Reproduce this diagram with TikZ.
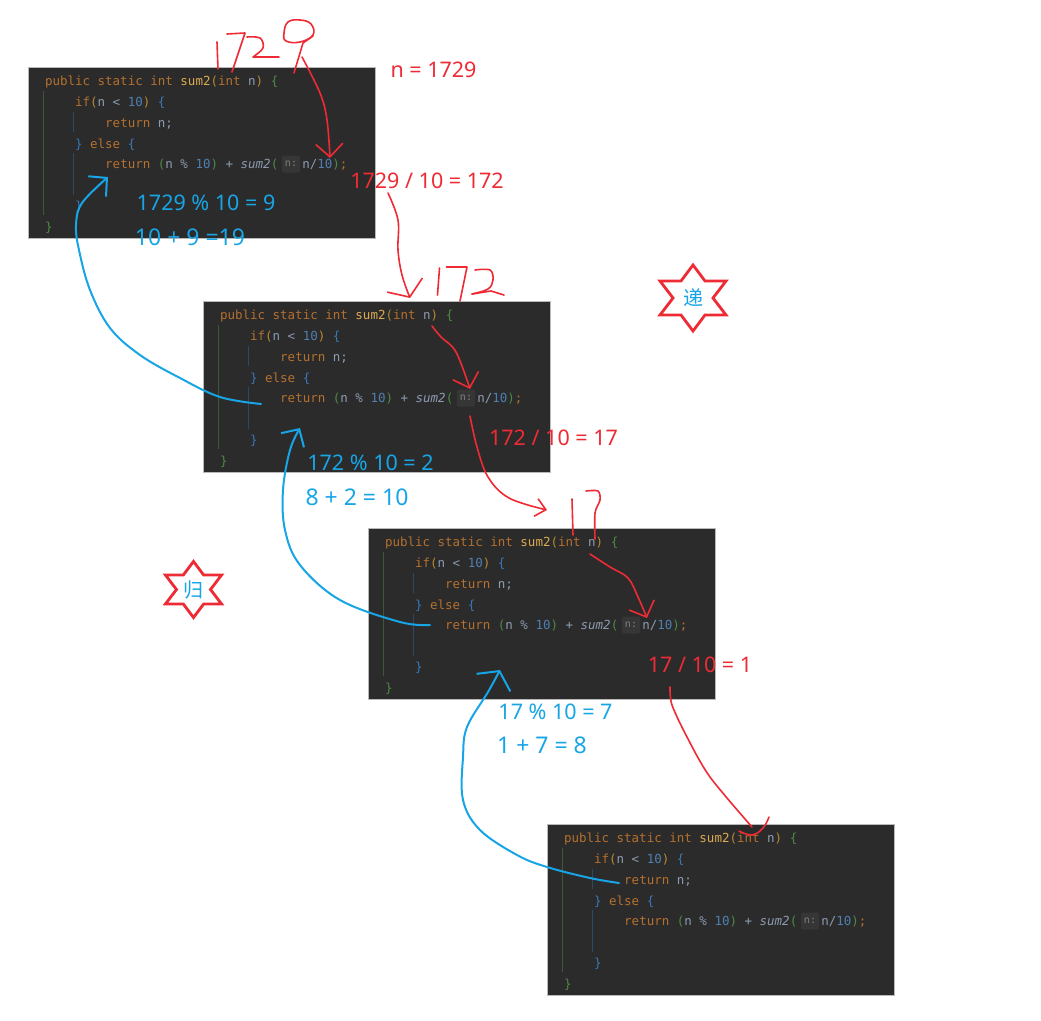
\documentclass[tikz,border=0pt]{standalone}
\usepackage{fontspec}
\setmainfont{Noto Sans}
\setmonofont{DejaVu Sans Mono}
\newfontfamily\cjk{Noto Sans CJK SC}
\usetikzlibrary{arrows.meta}

\definecolor{panelgray}{HTML}{2B2B2B}
\definecolor{chipgray}{HTML}{363636}
\definecolor{penred}{HTML}{EE2B35}
\definecolor{penblue}{HTML}{17A5E6}
\definecolor{codeorange}{HTML}{B5702E}
\definecolor{codeyellow}{HTML}{DDAA50}
\definecolor{codegold}{HTML}{B88A30}
\definecolor{codevar}{HTML}{8C9BB0}
\definecolor{codenum}{HTML}{4F7FAE}
\definecolor{codeblue}{HTML}{3A78B8}
\definecolor{codegreen}{HTML}{4E8A45}
\definecolor{guidegreen}{HTML}{3A5A35}
\definecolor{guideblue}{HTML}{2A4A6A}

\newcommand{\ckw}[1]{\textcolor{codeorange}{#1}}
\newcommand{\cfn}[1]{\textcolor{codeyellow}{#1}}
\newcommand{\cgold}[1]{\textcolor{codegold}{#1}}
\newcommand{\cvar}[1]{\textcolor{codevar}{#1}}
\newcommand{\cnum}[1]{\textcolor{codenum}{#1}}
\newcommand{\cblue}[1]{\textcolor{codeblue}{#1}}
\newcommand{\cgreen}[1]{\textcolor{codegreen}{#1}}
\newcommand{\indA}{\hspace*{30.1pt}}
\newcommand{\indB}{\hspace*{60.2pt}}

\newcommand{\sumcode}{%
\spaceskip=7.525pt\relax
\leavevmode\vrule height 14pt width 0pt\relax
\ckw{public static int} \cfn{sum2}\cgold{(}\ckw{int} \cvar{n}\cgold{)} \cgreen{\{}\\
\indA\ckw{if}\cgold{(}\cvar{n < }\cnum{10}\cgold{)} \cblue{\{}\\
\indB\ckw{return} \cvar{n;}\\
\indA\cblue{\}} \ckw{else} \cblue{\{}\\
\indB\ckw{return} \cgreen{(}\cvar{n \% }\cnum{10}\cgreen{)} \cvar{+} \cvar{\textit{sum2}}\cgreen{(}\hspace*{24pt}\cvar{n/}\cnum{10}\cgreen{)}\ckw{;}\\
\mbox{}\\
\indA\cblue{\}}\\
\cgreen{\}}}

% six pointed mark: centre, size, name, text
\newcommand{\sixstar}[5]{%
    \begin{scope}[shift={(#1,#2)}]
        \draw [starline, scale=#3] (0,-33) -- (12,-17) -- (33,-17) -- (20,0) -- (33,17) -- (12,17) -- (0,33)
            -- (-12,17) -- (-33,17) -- (-20,0) -- (-33,-17) -- (-12,-17) -- cycle;
        \node [starlabel] (#4) at (0,0) {#5};
    \end{scope}}

\begin{document}
\begin{tikzpicture}[
        x=1pt, y=-1pt,
        panel/.style={rectangle, draw=gray!55, line width=0.5pt, fill=panelgray, anchor=north west, outer sep=0pt,
            text width=313pt, inner xsep=17pt, inner ysep=0pt, minimum height=171pt, align=left,
            font=\fontsize{12.5}{20.8}\selectfont\ttfamily},
        chip/.style={rectangle, rounded corners=2pt, fill=chipgray, inner sep=0pt, minimum width=18pt, minimum height=17pt,
            text=gray, font=\fontsize{10}{10}\selectfont\ttfamily},
        greenguide/.style={draw=guidegreen, line width=0.8pt},
        blueguide/.style={draw=guideblue, line width=0.8pt},
        redtext/.style={text=penred, inner sep=0pt, font=\fontsize{21.5}{23}\selectfont},
        modtext/.style={text=penblue, inner sep=0pt, font=\fontsize{21.5}{23}\selectfont},
        bluetext/.style={text=penblue, inner sep=0pt, font=\fontsize{23}{23}\selectfont},
        redpen/.style={draw=penred, line width=1.6pt, line cap=round, line join=round},
        bluepen/.style={draw=penblue, line width=2pt, line cap=round, line join=round},
        barb/.style={-{Straight Barb[length=13pt,width=27pt]}},
        smallbarb/.style={-{Straight Barb[length=10pt,width=18pt]}},
        widebarb/.style={-{Straight Barb[length=13pt,width=38pt]}},
        starline/.style={draw=penred, line width=2.8pt, fill=white, line join=miter},
        starlabel/.style={text=penblue, inner sep=0pt, font=\fontsize{20}{20}\selectfont\cjk}
    ]
    \useasboundingbox (0,0) rectangle (1041,1020);

    \node [panel] (code1) at (28,67) {\sumcode};
    \node [panel] (code2) at (203,301) {\sumcode};
    \node [panel] (code3) at (368,528) {\sumcode};
    \node [panel] (code4) at (547,824) {\sumcode};

    \foreach \p in {code1,code2,code3,code4} {
        \draw [greenguide] ([shift={(15,24)}]\p.north west) -- ([shift={(15,148)}]\p.north west);
        \draw [blueguide] ([shift={(45,45)}]\p.north west) -- ([shift={(45,65)}]\p.north west);
        \draw [blueguide] ([shift={(45,86)}]\p.north west) -- ([shift={(45,128)}]\p.north west);
        \node [chip] (\p chip) at ([shift={(263,97)}]\p.north west) {n:};
    }

    \sixstar{693}{298}{1}{di}{递}
    \sixstar{193.5}{589.5}{0.85}{gui}{归}

    \node [redtext] (n1729) at (433.5,70) {n = 1729};
    \node [redtext] (div1) at (427,181) {1729 / 10 = 172};
    \node [redtext] (div2) at (553.5,438) {172 / 10 = 17};
    \node [redtext] (div3) at (700,665) {17 / 10 = 1};
    \node [modtext] (mod1) at (206,203) {1729 \% 10 = 9};
    \node [bluetext] (sum1) at (190,237) {10 + 9 =19};
    \node [modtext] (mod2) at (370.5,463) {172 \% 10 = 2};
    \node [bluetext] (sum2) at (357,497) {8 + 2 = 10};
    \node [modtext] (mod3) at (555.5,712) {17 \% 10 = 7};
    \node [bluetext] (sum3) at (542,745) {1 + 7 = 8};

    % handwritten numbers
    \draw [redpen] (217,42) -- (218,69);
    \draw [redpen] (227,34) -- (245,33) -- (232,72);
    \draw [redpen] plot [smooth, tension=.6] coordinates {(247,37) (260,38) (263,48) (253,57)} -- (279,57);
    \draw [redpen] plot [smooth cycle, tension=.7] coordinates {(284,33) (288,22) (300,20) (311,24) (313,35) (300,42) (286,41)};
    \draw [redpen] (313,36) -- (303,43) -- (294,73);

    \draw [redpen] (439.5,268) -- (437.5,295);
    \draw [redpen] (446.5,267) -- (467,267) -- (460,301);
    \draw [redpen] plot [smooth, tension=.6] coordinates {(475,270) (490,270) (493,280) (488,289) (472,294)};
    \draw [redpen] (472,294) -- (491,291) -- (504,295);

    \draw [redpen] (572,499) -- (573,535);
    \draw [redpen] plot [smooth, tension=.5] coordinates {(586,491) (598,491) (600,500) (595,513) (595,539)};

    % named ends of the pen strokes
    \coordinate (nine) at (302,57);
    \coordinate (arg1) at (330,158);
    \coordinate (res1) at (388,193);
    \coordinate (top2) at (410,298);
    \coordinate (par2) at (432,326);
    \coordinate (arg2) at (470,389);
    \coordinate (res2) at (470,416);
    \coordinate (top3) at (547,510);
    \coordinate (par3) at (590,554);
    \coordinate (arg3) at (647,618);
    \coordinate (res3) at (670,687);
    \coordinate (top4) at (752,827);
    \coordinate (ret1) at (108,177);
    \coordinate (ret2) at (261,404);
    \coordinate (ret2up) at (300,428);
    \coordinate (ret3) at (430,625);
    \coordinate (ret3up) at (500,670);
    \coordinate (ret4) at (619,883);

    \draw [redpen, barb] plot [smooth, tension=.6] coordinates {(nine) (320,93) (327,120) (arg1)};
    \draw [redpen, widebarb] plot [smooth, tension=.6] coordinates {(res1) (398,220) (398,250) (402,275) (top2)};
    \draw [redpen, barb] plot [smooth, tension=.6] coordinates {(par2) (441,337) (456,352) (arg2)};
    \draw [redpen, smallbarb] plot [smooth, tension=.6] coordinates {(res2) (477,447) (488,477) (509,498) (top3)};
    \draw [redpen, barb] plot [smooth, tension=.6] coordinates {(par3) (610,567) (628,578) (638,597) (arg3)};
    \draw [redpen] plot [smooth, tension=.5] coordinates {(res3) (672,705) (687,737) (710,777) (top4)};
    \draw [redpen] plot [smooth, tension=.7] coordinates {(739,831) (752,835) (763,828) (769,817)};

    \draw [bluepen, barb] plot [smooth, tension=.6] coordinates {(ret2) (220,397) (180,378) (140,355) (110,328) (90,290) (79,250) (76,225) (82,203) (ret1)};
    \draw [bluepen, barb] plot [smooth, tension=.6] coordinates {(ret3) (400,622) (340,600) (300,565) (285,530) (283,490) (290,450) (ret2up)};
    \draw [bluepen, widebarb] plot [smooth, tension=.6] coordinates {(ret4) (590,878) (547,867) (517,855) (480,830) (463,800) (463,757) (467,727) (488,692) (ret3up)};
\end{tikzpicture}
\end{document}
